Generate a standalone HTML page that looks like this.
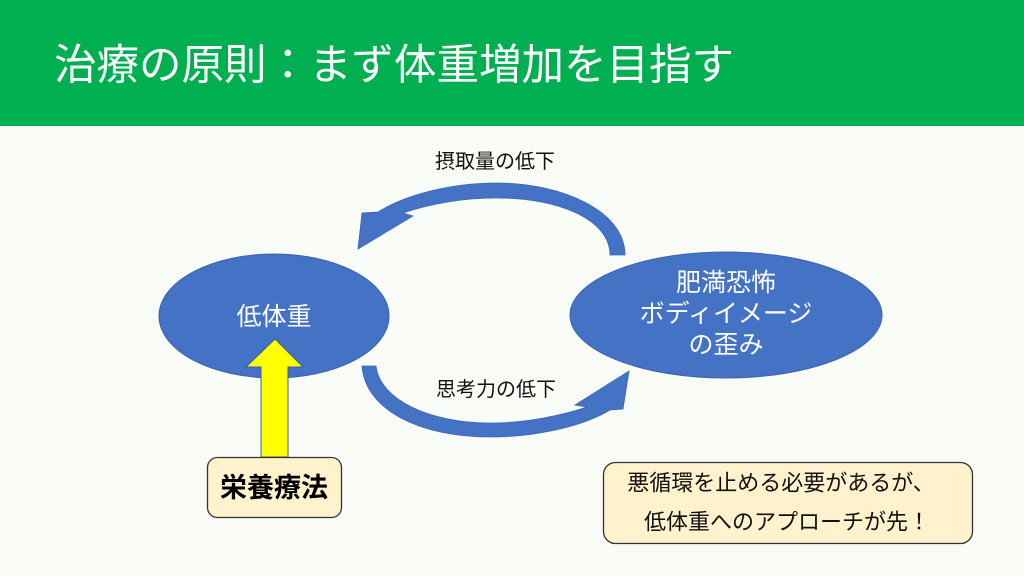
<!DOCTYPE html>
<html>
<head>
<meta charset="utf-8">
<style>
  html, body { margin: 0; padding: 0; }
  body { width: 1024px; height: 576px; overflow: hidden; background: #f9fbf7; }
  svg { display: block; }
  text { font-family: "Liberation Sans", "Noto Sans CJK JP", sans-serif; }
</style>
</head>
<body>
<svg width="1024" height="576" viewBox="0 0 1024 576" xmlns="http://www.w3.org/2000/svg">
  <rect x="0" y="0" width="1024" height="576" fill="#f9fbf7"/>
  <rect x="0" y="0" width="1024" height="126" fill="#00b050"/>
  <text x="54" y="66" font-size="42.5" fill="#ffffff" dominant-baseline="central">治療の原則：まず体重増加を目指す</text>

  <!-- top curved arrow -->
  <path d="M625,255 C625,210 560,183 497,183 C450,183 405,195 378,212 L362,213 L358,249 L413,216 L403,213 C430,204 460,198 497,198 C560,198 610,220 610,255 Z"
        fill="#4472c4" stroke="#3d68b3" stroke-width="0.8"/>
  <text x="495" y="162" font-size="20" fill="#111" text-anchor="middle" dominant-baseline="central">摂取量の低下</text>

  <!-- bottom curved arrow -->
  <path d="M362,366 C365,410 420,437 490,437 C540,437 585,425 610,410 L623,409 L629,371 L575,405 L587,407 C560,416 525,423 490,423 C430,423 380,400 376,366 Z"
        fill="#4472c4" stroke="#3d68b3" stroke-width="0.8"/>
  <text x="496" y="390" font-size="20" fill="#111" text-anchor="middle" dominant-baseline="central">思考力の低下</text>

  <!-- left ellipse -->
  <ellipse cx="274" cy="316" rx="115" ry="62" fill="#4472c4" stroke="#3a63a8" stroke-width="1"/>
  <text x="274" y="317" font-size="25" fill="#ffffff" text-anchor="middle" dominant-baseline="central">低体重</text>

  <!-- right ellipse -->
  <ellipse cx="726" cy="315" rx="156" ry="63" fill="#4472c4" stroke="#3a63a8" stroke-width="1"/>
  <text x="726" y="283" font-size="25" fill="#ffffff" text-anchor="middle" dominant-baseline="central">肥満恐怖</text>
  <text x="726" y="314" font-size="25" fill="#ffffff" text-anchor="middle" dominant-baseline="central">ボディイメージ</text>
  <text x="726" y="345" font-size="25" fill="#ffffff" text-anchor="middle" dominant-baseline="central">の歪み</text>

  <!-- yellow arrow -->
  <path d="M275,339 L303,367 L288,367 L288,457 L261,457 L261,367 L246,367 Z"
        fill="#ffff00" stroke="#3f5f95" stroke-width="1"/>

  <!-- 栄養療法 box -->
  <rect x="207.5" y="457.5" width="134" height="60" rx="10" ry="10" fill="#fff2cc" stroke="#333333" stroke-width="1.3"/>
  <text x="274" y="488" font-size="27" font-weight="bold" fill="#000" text-anchor="middle" dominant-baseline="central">栄養療法</text>

  <!-- bottom-right box -->
  <rect x="603.5" y="462.5" width="369" height="81" rx="12" ry="12" fill="#fff2cc" stroke="#333333" stroke-width="1.3"/>
  <text x="781" y="483" font-size="22" fill="#111" text-anchor="middle" dominant-baseline="central">悪循環を止める必要があるが、</text>
  <text x="787" y="522" font-size="22" fill="#111" text-anchor="middle" dominant-baseline="central">低体重へのアプローチが先！</text>
</svg>
</body>
</html>
